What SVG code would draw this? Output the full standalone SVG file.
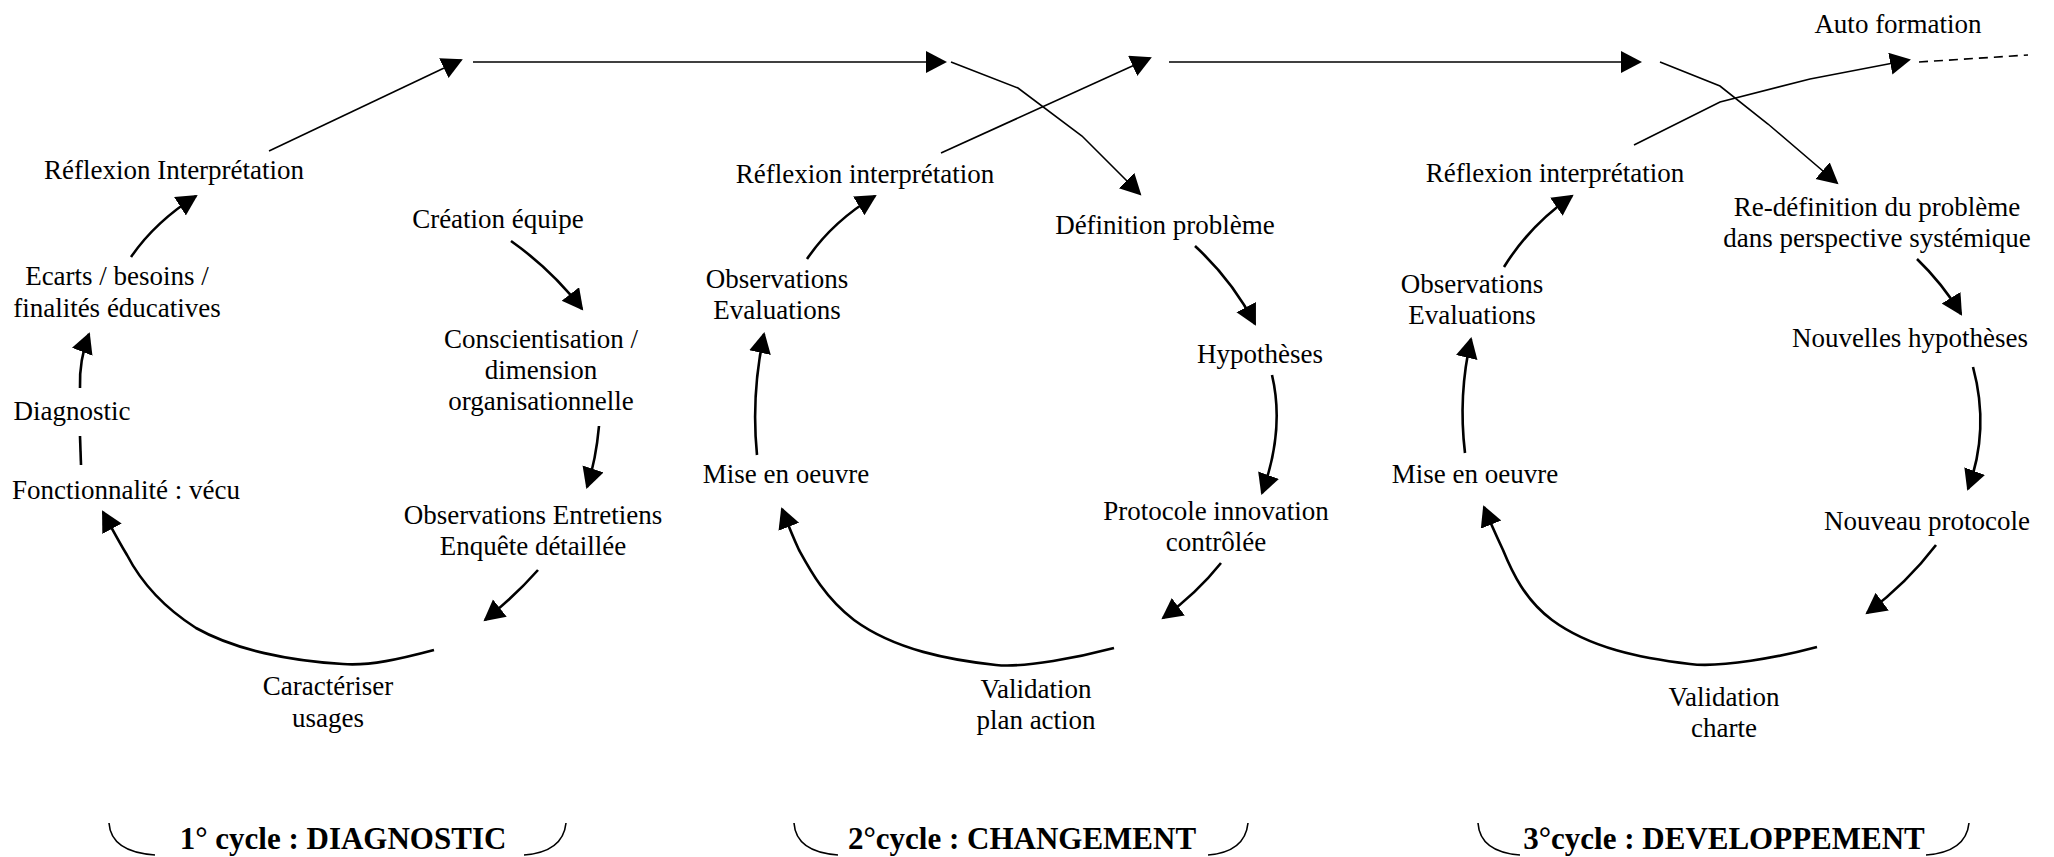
<svg xmlns="http://www.w3.org/2000/svg" width="2054" height="857" viewBox="0 0 2054 857">
<defs>
<style>
text{font-family:'Liberation Serif','Times New Roman','DejaVu Serif',serif;font-size:27px;fill:#000;text-anchor:middle}
.title{font-weight:bold;font-size:31px}
.thin{fill:none;stroke:#000;stroke-width:1.6}
.thick{fill:none;stroke:#000;stroke-width:2.6}
.arr{marker-end:url(#ah)}
.dash{stroke-dasharray:9,6}
</style>
<marker id="ah" markerUnits="userSpaceOnUse" markerWidth="24" markerHeight="24" refX="19" refY="11" orient="auto">
<path d="M0,0 L21,11 L0,22 z" fill="#000"/>
</marker>
</defs>
<rect width="2054" height="857" fill="#fff"/>

<g id="connectors">
<path class="thin arr" d="M269,151 L461,60"/>
<path class="thin arr" d="M473,62 L945,62"/>
<path class="thin arr" d="M951,62 L1018,88 L1082,136 L1140,194"/>
<path class="thin arr" d="M941,153 L1150,58"/>
<path class="thin arr" d="M1169,62 L1640,62"/>
<path class="thin arr" d="M1660,62 L1720,86 L1768,124 L1837,183"/>
<path class="thin arr" d="M1634,145 L1720,102 L1810,79 L1909,60"/>
<path class="thin dash" d="M1919,62 L2028,55"/>

<path class="thick arr" d="M131,257 Q155,222 196,196"/>
<path class="thick arr" d="M80,388 Q79,360 89,334"/>
<path class="thick" d="M81,465 L80,436"/>
<path class="thick arr" d="M434,650 C400,659 370,666 343,664 C290,661 235,650 196,628 C160,605 140,580 127,555 C118,540 110,525 103,512"/>
<path class="thick arr" d="M511,241 Q552,270 582,309"/>
<path class="thick arr" d="M599,426 Q596,460 587,487"/>
<path class="thick arr" d="M538,570 Q515,596 485,620"/>

<path class="thick arr" d="M807,259 Q832,222 875,196"/>
<path class="thick arr" d="M757,455 Q751,395 764,334"/>
<path class="thick arr" d="M1114,648 C1080,657 1025,668 996,665 C950,660 895,650 854,620 C825,598 810,570 799,550 C792,535 787,522 782,509"/>
<path class="thick arr" d="M1195,246 Q1232,280 1255,324"/>
<path class="thick arr" d="M1272,375 Q1285,430 1262,493"/>
<path class="thick arr" d="M1221,563 Q1197,593 1163,618"/>

<path class="thick arr" d="M1504,267 Q1530,225 1572,196"/>
<path class="thick arr" d="M1465,453 Q1458,395 1471,339"/>
<path class="thick arr" d="M1817,647 C1780,657 1720,668 1690,664 C1640,658 1590,648 1552,620 C1525,600 1512,572 1503,550 C1496,535 1490,522 1484,507"/>
<path class="thick arr" d="M1917,259 Q1942,283 1961,314"/>
<path class="thick arr" d="M1973,367 Q1990,430 1968,489"/>
<path class="thick arr" d="M1936,545 Q1907,583 1867,613"/>

<path class="thin" d="M109,823 Q111,852 155,855"/>
<path class="thin" d="M566,823 Q563,852 524,855"/>
<path class="thin" d="M794,823 Q796,852 838,855"/>
<path class="thin" d="M1248,823 Q1245,852 1208,855"/>
<path class="thin" d="M1478,823 Q1480,852 1520,855"/>
<path class="thin" d="M1969,823 Q1966,852 1926,855"/>
</g>

<g id="c1-reflexion"><text x="174" y="179">Réflexion Interprétation</text></g>
<g id="c1-creation"><text x="498" y="228">Création équipe</text></g>
<g id="c1-ecarts"><text x="117" y="285">Ecarts / besoins /</text><text x="117" y="317">finalités éducatives</text></g>
<g id="c1-conscientisation"><text x="541" y="348">Conscientisation /</text><text x="541" y="379">dimension</text><text x="541" y="410">organisationnelle</text></g>
<g id="c1-diagnostic"><text x="72" y="420">Diagnostic</text></g>
<g id="c1-fonctionnalite"><text x="126" y="499">Fonctionnalité : vécu</text></g>
<g id="c1-observations"><text x="533" y="524">Observations Entretiens</text><text x="533" y="555">Enquête détaillée</text></g>
<g id="c1-caracteriser"><text x="328" y="695">Caractériser</text><text x="328" y="727">usages</text></g>

<g id="c2-reflexion"><text x="865" y="183">Réflexion interprétation</text></g>
<g id="c2-observations"><text x="777" y="288">Observations</text><text x="777" y="319">Evaluations</text></g>
<g id="c2-mise"><text x="786" y="483">Mise en oeuvre</text></g>
<g id="c2-definition"><text x="1165" y="234">Définition problème</text></g>
<g id="c2-hypotheses"><text x="1260" y="363">Hypothèses</text></g>
<g id="c2-protocole"><text x="1216" y="520">Protocole innovation</text><text x="1216" y="551">contrôlée</text></g>
<g id="c2-validation"><text x="1036" y="698">Validation</text><text x="1036" y="729">plan action</text></g>

<g id="c3-reflexion"><text x="1555" y="182">Réflexion interprétation</text></g>
<g id="c3-observations"><text x="1472" y="293">Observations</text><text x="1472" y="324">Evaluations</text></g>
<g id="c3-mise"><text x="1475" y="483">Mise en oeuvre</text></g>
<g id="c3-redefinition"><text x="1877" y="216">Re-définition du problème</text><text x="1877" y="247">dans perspective systémique</text></g>
<g id="c3-nouvelles"><text x="1910" y="347">Nouvelles hypothèses</text></g>
<g id="c3-protocole"><text x="1927" y="530">Nouveau protocole</text></g>
<g id="c3-validation"><text x="1724" y="706">Validation</text><text x="1724" y="737">charte</text></g>
<g id="auto-formation"><text x="1898" y="33">Auto formation</text></g>

<g id="cycle1-label"><text class="title" x="343" y="849">1° cycle : DIAGNOSTIC</text></g>
<g id="cycle2-label"><text class="title" x="1022" y="849">2°cycle : CHANGEMENT</text></g>
<g id="cycle3-label"><text class="title" x="1724" y="849">3°cycle : DEVELOPPEMENT</text></g>
</svg>
